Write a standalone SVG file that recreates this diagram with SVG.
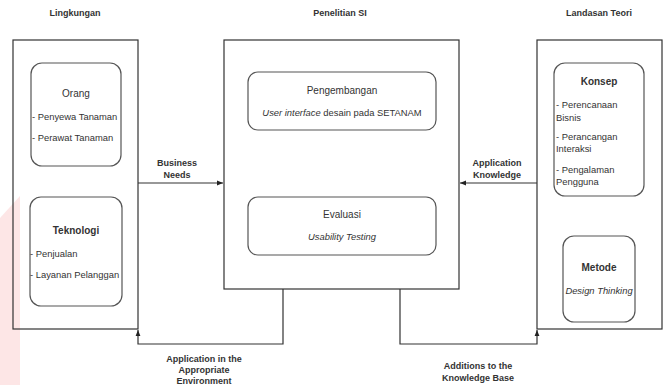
<svg xmlns="http://www.w3.org/2000/svg" width="663" height="385" viewBox="0 0 663 385">
<defs>
<marker id="arr" viewBox="0 0 10 10" refX="10" refY="5" markerWidth="6" markerHeight="6" markerUnits="userSpaceOnUse" orient="auto">
<path d="M0,1 L10,5 L0,9 Z" fill="#222"/>
</marker>
</defs>
<style>
.frame{fill:none;stroke:#333;stroke-width:1.2}
.rbox{fill:none;stroke:#555;stroke-width:1.2}
.conn{fill:none;stroke:#333;stroke-width:1.2}
text{font-family:"Liberation Sans",Arial,sans-serif;fill:#333}
.h{font-size:9px;font-weight:bold;text-anchor:middle}
.t{font-size:10px;text-anchor:middle}
.tb{font-size:10px;font-weight:bold;text-anchor:middle}
.b{font-size:9.4px}
.bc{font-size:9.4px;text-anchor:middle}
.i{font-style:italic}
</style>
<rect width="663" height="385" fill="#fff"/>
<polygon points="0,218 20,196 20,385 0,385" fill="#fde6e6"/>

<g id="lingkungan">
<text class="h" x="75" y="16">Lingkungan</text>
<rect class="frame" x="13" y="40" width="125" height="289"/>
</g>
<g id="orang">
<rect class="rbox" x="31" y="63" width="90" height="103" rx="11"/>
<text class="t" x="76" y="97">Orang</text>
<text class="b" x="32" y="120">- Penyewa Tanaman</text>
<text class="b" x="32" y="141">- Perawat Tanaman</text>
</g>
<g id="teknologi">
<rect class="rbox" x="30" y="197" width="92" height="109" rx="11"/>
<text class="tb" x="76" y="234">Teknologi</text>
<text class="b" x="30" y="257">- Penjualan</text>
<text class="b" x="30" y="278">- Layanan Pelanggan</text>
</g>

<g id="penelitian">
<text class="h" x="340" y="16">Penelitian SI</text>
<rect class="frame" x="224" y="40" width="235" height="249"/>
</g>
<g id="pengembangan">
<rect class="rbox" x="248" y="72" width="188" height="58" rx="10"/>
<text class="t" x="342" y="94">Pengembangan</text>
<text class="bc" x="342" y="116"><tspan class="i">User interface</tspan> desain pada SETANAM</text>
</g>
<g id="evaluasi">
<rect class="rbox" x="248" y="197" width="188" height="58" rx="10"/>
<text class="t" x="342" y="218">Evaluasi</text>
<text class="bc i" x="342" y="240">Usability Testing</text>
</g>

<g id="landasan">
<text class="h" x="599" y="16">Landasan Teori</text>
<rect class="frame" x="537" y="40" width="125" height="289"/>
</g>
<g id="konsep">
<rect class="rbox" x="554" y="63" width="90" height="133" rx="11"/>
<text class="tb" x="599" y="85">Konsep</text>
<text class="b" x="556" y="108">- Perencanaan</text>
<text class="b" x="556" y="121">Bisnis</text>
<text class="b" x="556" y="140">- Perancangan</text>
<text class="b" x="556" y="152">Interaksi</text>
<text class="b" x="556" y="173">- Pengalaman</text>
<text class="b" x="556" y="185">Pengguna</text>
</g>
<g id="metode">
<rect class="rbox" x="563" y="236" width="72" height="86" rx="11"/>
<text class="tb" x="599" y="271">Metode</text>
<text class="bc i" x="599" y="294">Design Thinking</text>
</g>

<g id="connectors">
<line class="conn" x1="138" y1="183" x2="223" y2="183" marker-end="url(#arr)"/>
<line class="conn" x1="537" y1="183" x2="460" y2="183" marker-end="url(#arr)"/>
<polyline class="conn" points="283,289 283,344 138,344 138,330" marker-end="url(#arr)"/>
<polyline class="conn" points="400,289 400,344 537,344 537,330" marker-end="url(#arr)"/>
</g>
<g id="labels">
<text class="h" x="177" y="166">Business</text>
<text class="h" x="177" y="178">Needs</text>
<text class="h" x="497" y="166">Application</text>
<text class="h" x="497" y="178">Knowledge</text>
<text class="h" x="204" y="362">Application in the</text>
<text class="h" x="204" y="373">Appropriate</text>
<text class="h" x="204" y="384">Environment</text>
<text class="h" x="478" y="369">Additions to the</text>
<text class="h" x="478" y="381">Knowledge Base</text>
</g>
</svg>
